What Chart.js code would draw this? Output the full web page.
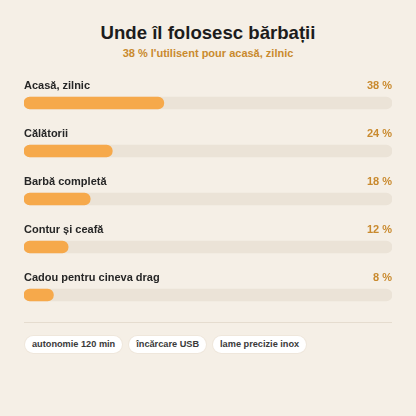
<!DOCTYPE html>
<html>
<head>
<meta charset="utf-8">
<script src="https://cdn.jsdelivr.net/npm/chart.js@4"></script>
<style>
  html, body { margin: 0; padding: 0; }
  body {
    width: 416px; height: 416px; overflow: hidden;
    background: #f5efe6;
    font-family: "Liberation Sans", Arial, sans-serif;
    position: relative;
  }
  #title {
    position: absolute; left: 0; top: 21px; width: 416px;
    text-align: center; font-size: 18.6px; font-weight: bold; color: #1c1c1c;
    line-height: 24px;
  }
  #subtitle {
    position: absolute; left: 0; top: 46px; width: 416px;
    text-align: center; font-size: 11px; font-weight: bold; color: #c98a2e;
    line-height: 14px;
  }
  #wrap { position: absolute; left: 0; top: 79px; width: 416px; height: 240px; }
  #sep { position: absolute; left: 24px; top: 322px; width: 368px; height: 1px; background: #e5dccf; }
  #chips { position: absolute; left: 25px; top: 336px; display: flex; gap: 7px; }
  .chip {
    background: #fff; border-radius: 9px; padding: 0 7px; height: 17px; line-height: 17px;
    font-size: 9.2px; font-weight: bold; color: #3a3a3a;
    box-shadow: 0 0 0 1px #efe7dc;
  }
</style>
</head>
<body>
<div id="title">Unde îl folosesc bărbații</div>
<div id="subtitle">38 % l'utilisent pour acasă, zilnic</div>
<div id="wrap"><canvas id="bars"></canvas></div>
<div id="sep"></div>
<div id="chips"></div>

<script>
// data
const categories = ["Acasă, zilnic", "Călătorii", "Barbă completă", "Contur și ceafă", "Cadou pentru cineva drag"];
const shares = [38, 24, 18, 12, 8];
const trackMax = [100, 100, 100, 100, 100];
const chipLabels = ["autonomie 120 min", "încărcare USB", "lame precizie inox"];

const chipsBox = document.getElementById("chips");
chipLabels.forEach((t) => {
    const el = document.createElement("div");
    el.className = "chip";
    el.textContent = t;
    chipsBox.appendChild(el);
});

// draws the category name above each bar and the percentage on the right
const rowLabels = {
    id: "rowLabels",
    afterDatasetsDraw(chart) {
        const ctx = chart.ctx;
        const y = chart.scales.y;
        const area = chart.chartArea;
        ctx.save();
        ctx.font = "bold 11px 'Liberation Sans', Arial, sans-serif";
        ctx.textBaseline = "middle";
        categories.forEach((c, i) => {
            const cy = y.getPixelForValue(i) - 17;
            ctx.fillStyle = "#262626";
            ctx.textAlign = "left";
            ctx.fillText(c, area.left, cy);
            ctx.fillStyle = "#c98a2e";
            ctx.textAlign = "right";
            ctx.fillText(shares[i] + " %", area.right, cy);
        });
        ctx.restore();
    },
};

new Chart(document.getElementById("bars"), {
    type: "bar",
    data: {
        labels: categories,
        datasets: [
            {
                data: shares,
                backgroundColor: "#f6a94b",
                borderRadius: 6,
                borderSkipped: false,
                barThickness: 12,
                grouped: false,
                order: 1,
            },
            {
                data: trackMax,
                backgroundColor: "#ebe3d7",
                borderRadius: 6,
                borderSkipped: false,
                barThickness: 12,
                grouped: false,
                order: 2,
            },
        ],
    },
    options: {
        indexAxis: "y",
        responsive: true,
        maintainAspectRatio: false,
        animation: false,
        layout: { padding: { left: 24, right: 24, top: 0, bottom: 0 } },
        plugins: { legend: { display: false }, tooltip: { enabled: false } },
        scales: {
            x: { display: false, min: 0, max: 100 },
            y: { display: false },
        },
    },
    plugins: [rowLabels],
});
</script>
</body>
</html>
